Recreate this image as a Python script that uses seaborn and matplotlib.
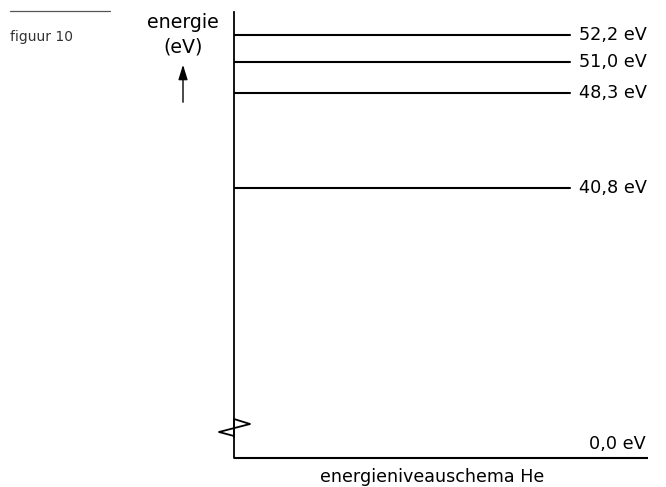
import numpy as np
import pandas as pd
import matplotlib
matplotlib.use("Agg")
import matplotlib.pyplot as plt
import seaborn as sns
from matplotlib.lines import Line2D
from matplotlib.patches import FancyArrowPatch

# ---- data ----
levels = [52.2, 51.0, 48.3, 40.8]
level_labels = ["52,2 eV", "51,0 eV", "48,3 eV", "40,8 eV"]
ground_level = [0.0]
ground_label = ["0,0 eV"]
ylabel_lines = ["energie", "(eV)"]
title = "energieniveauschema He"
figlabel = "figuur 10"

# ---- schematic (not-to-scale) energy axis: energy -> drawing height ----
scale_E = [0.0, 40.8, 48.3, 51.0, 52.2, 80.0]
scale_h = [-512.5, 35.0, 130.0, 161.0, 188.0, 561.0]

def fwd(e):
    return np.interp(e, scale_E, scale_h)

def inv(h):
    return np.interp(h, scale_h, scale_E)

sns.set_style("white")
plt.rcParams["font.family"] = ["DejaVu Sans"]
plt.rcParams["text.color"] = "black"

W, H = 666, 487
fig = plt.figure(figsize=(W / 100, H / 100), dpi=100)

def fx(px):
    return px / W

def fy(py):
    return 1 - py / H

x0, x1 = 234, 648
top_px, break_px, bot_px = 12, 437, 458

# upper axes (excited levels)
ax = fig.add_axes([fx(x0), fy(break_px), fx(x1) - fx(x0), fy(top_px) - fy(break_px)])
ax.set_yscale("function", functions=(fwd, inv))
ax.set_xlim(0, 1)
ax.set_ylim(inv(223 - break_px), inv(223 - top_px))

df = pd.DataFrame({
    "x": np.tile([0.0, 0.8116], len(levels)),
    "E": np.repeat(levels, 2),
    "lvl": np.repeat(level_labels, 2),
})
sns.lineplot(data=df, x="x", y="E", units="lvl", estimator=None, color="black",
             lw=1.5, ax=ax, legend=False)
for e, lab in zip(levels, level_labels):
    ax.text(0.833, e, lab, ha="left", va="center", fontsize=12.7, color="black")

for s in ["top", "right", "bottom"]:
    ax.spines[s].set_visible(False)
ax.spines["left"].set_linewidth(1.3)
ax.spines["left"].set_color("black")
ax.set_xticks([]); ax.set_yticks([]); ax.minorticks_off()
ax.set_xlabel(""); ax.set_ylabel("")
ax.patch.set_alpha(0)

# lower axes (ground level)
ax2 = fig.add_axes([fx(x0), fy(bot_px), fx(x1) - fx(x0), fy(break_px) - fy(bot_px)])
ax2.set_xlim(0, 1)
ax2.set_ylim(0, 1)
ax2.hlines(ground_level, 0, 1, color="black", lw=1.5, clip_on=False)
ax2.text(0.995, ground_level[0] + 0.65, ground_label[0], ha="right", va="center",
         fontsize=12.7, color="black")
for s in ax2.spines.values():
    s.set_visible(False)
ax2.set_xticks([]); ax2.set_yticks([])
ax2.patch.set_alpha(0)

# zigzag break on the vertical axis
zx = [234, 234, 250, 219, 234, 234]
zy = [break_px, 419, 424, 432, 436, bot_px]
fig.add_artist(Line2D([fx(v) for v in zx], [fy(v) for v in zy], color="black", lw=1.3))

# energy label with arrow
fig.text(fx(183), fy(23), ylabel_lines[0], ha="center", va="center", fontsize=13.7, color="black")
fig.text(fx(183), fy(47), ylabel_lines[1], ha="center", va="center", fontsize=13.7, color="black")
fig.add_artist(FancyArrowPatch(
    (fx(183), fy(105)), (fx(183), fy(62)), transform=fig.transFigure,
    arrowstyle="-|>,head_length=9,head_width=2.8", color="black", lw=1.0, mutation_scale=1))

# title
fig.text(fx(432), fy(477), title, ha="center", va="center", fontsize=12.6, color="black")

# figure label
fig.add_artist(Line2D([fx(10), fx(110)], [fy(11), fy(11)], color="#555555", lw=0.9))
fig.text(fx(10), fy(37), figlabel, ha="left", va="center", fontsize=10, color="#333333")

fig.savefig("out.png", dpi=100)
